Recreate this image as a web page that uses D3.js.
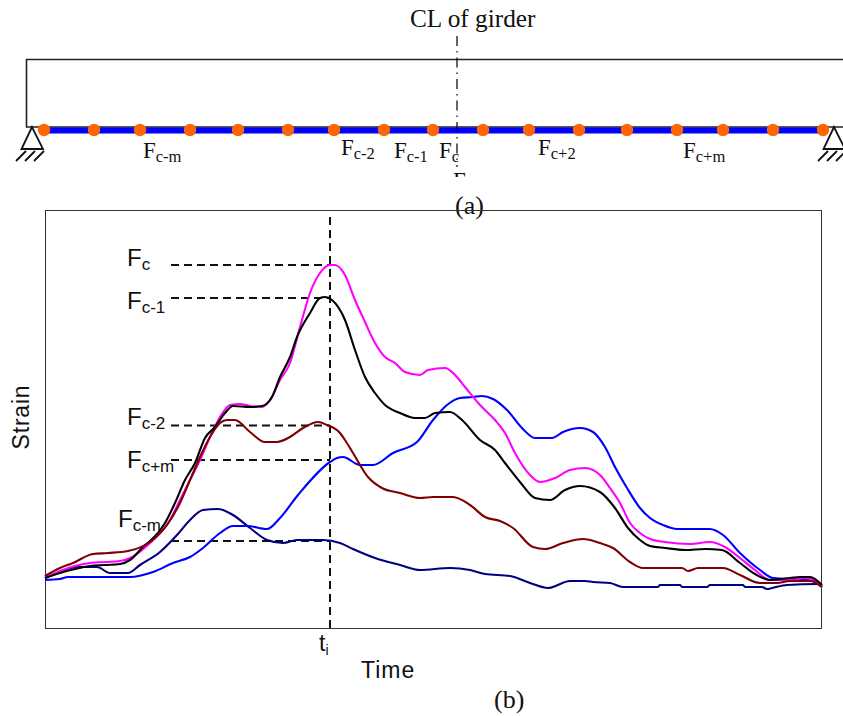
<!DOCTYPE html>
<html>
<head>
<meta charset="utf-8">
<script src="https://cdn.jsdelivr.net/npm/d3@7"></script>
<style>
  html, body { margin: 0; padding: 0; background: #fff; }
  svg { display: block; }
</style>
</head>
<body>
<div id="container"></div>
<script>
// curve readings: time and strain in plot units, origin at lower left of the frame
const timeFc = [0,15,30,45,60,75,85,105,125,135,145,155,165,175,185,195,205,217,225,235,245,255,265,275,285,290,300,310,320,330,340,350,360,375,383,400,410,420,435,450,460,470,485,495,510,525,540,555,565,575,585,595,605,620,645,665,680,695,710,725,745,760,777];
const strainFc = [50,57,62,65,66,67,70,85,108,128,148,168,191,211,223,224,222,221,228,248,265,301,335,355,363,363,353,328,306,285,271,265,256,253,258,260,253,241,223,208,195,175,153,146,150,158,160,153,140,125,105,95,89,86,84,86,81,70,58,48,48,50,42];
const timeFc1 = [0,15,30,45,60,75,85,100,105,120,130,140,150,160,170,180,188,205,217,227,235,245,252,265,275,280,287,300,310,320,330,340,355,370,380,390,405,417,435,450,460,475,490,505,520,535,555,570,583,595,605,620,640,660,677,695,710,725,745,755,765,777];
const strainFc1 = [50,55,59,62,63,64,68,83,87,105,125,148,165,190,201,215,222,221,222,231,251,271,291,315,330,331,328,308,278,251,235,223,215,210,210,215,216,208,188,178,165,146,130,128,138,142,136,120,100,88,82,80,78,79,78,65,54,48,50,51,51,43];
const timeFc2 = [0,15,28,48,63,83,105,122,135,145,155,165,175,182,190,205,220,232,245,258,273,282,295,300,308,323,337,355,375,388,408,425,440,455,468,488,500,518,538,555,568,585,598,637,643,653,678,695,715,732,745,765,777];
const strainFc2 = [52,60,65,74,75,77,86,103,125,148,171,191,205,208,208,196,186,186,191,200,206,203,195,188,175,151,140,135,130,131,131,123,111,107,100,81,79,85,89,85,80,66,60,60,57,60,60,53,45,45,47,47,41];
const timeFcPlusM = [0,15,23,85,108,128,145,158,175,188,202,222,235,253,285,292,298,315,328,348,372,388,402,415,428,437,448,462,477,490,507,518,535,548,560,570,582,595,605,618,632,665,678,695,715,728,748,765,777];
const strainFcPlusM = [48,49,51,51,56,65,71,80,95,102,102,99,110,133,166,170,171,163,163,175,186,208,223,230,231,232,229,218,200,190,190,196,200,196,181,161,140,120,110,103,99,99,93,75,58,50,49,49,42];
const timeFcMinusM = [0,15,32,52,65,83,95,115,132,145,158,173,188,205,222,238,252,278,295,308,330,355,375,405,425,440,465,485,503,525,540,548,565,578,613,615,635,637,662,665,698,700,717,722,727,742,772,777];
const strainFcMinusM = [50,56,61,61,55,55,63,76,93,108,118,119,113,100,88,85,88,88,85,79,70,63,58,60,58,54,52,45,40,47,47,46,45,41,41,43,43,41,41,43,43,41,41,39,40,43,44,41];

// load points along the girder, same units as the page
const girderStations = [44,94,140,190,238,288,334,384,433,483,529,579,627,677,723,773,823];
const girderLabels = ["c-m","c-2","c-1","c","c+2","c+m"];
const girderLabelX = [143,341,394,439,538,683];
const girderLabelY = [158,155,158,158,155,158];

// leader lines on the strain plot
const leaderNames = ["c","c-1","c-2","c+m","c-m"];
const leaderStrain = [363,330,202.5,168,87];
const leaderLabelStart = [127,127,127,127,118];
const leaderLabelBase = [266,309,425,468,527];

const WIDTH = 843;
const HEIGHT = 716;
const PLOT = { left: 45.5, right: 821.5, top: 210.5, bottom: 628.5 };
const PEAK_TIME = 285;
const SERIF = "'Liberation Serif', serif";
const SANS = "'Liberation Sans', sans-serif";

const svg = d3.select("#container").append("svg")
    .attr("width", WIDTH)
    .attr("height", HEIGHT);

const x = d3.scaleLinear().domain([0, 777]).range([45, 822]);
const y = d3.scaleLinear().domain([0, 418]).range([628, 210]);

// text with a lowered subscript, F is the main letter everywhere
const subLabel = (g, px, py, sub, size, subSize, family) => {
    const t = g.append("text")
        .attr("x", px)
        .attr("y", py)
        .attr("font-family", family)
        .attr("font-size", size)
        .attr("fill", "#111");
    t.append("tspan").text("F");
    t.append("tspan").attr("dy", size * 0.17).attr("font-size", subSize).text(sub);
};

// girder part (a)
const drawGirder = () => {
    const g = svg.append("g");
    g.append("path")
        .attr("d", "M843,59.5H26.5V127H843")
        .attr("fill", "none")
        .attr("stroke", "#222")
        .attr("stroke-width", 1.6);
    g.append("rect")
        .attr("x", 44).attr("y", 127.5)
        .attr("width", 779).attr("height", 6)
        .attr("fill", "#0000ff");
    g.selectAll("circle")
        .data(girderStations)
        .join("circle")
        .attr("cx", (d) => d)
        .attr("cy", 130)
        .attr("r", 6.2)
        .attr("fill", "#ff6600");

    // pinned supports
    [32, 834].forEach((cx) => {
        g.append("path")
            .attr("d", `M${cx},127L${cx - 10.5},149H${cx + 11}Z`)
            .attr("fill", "none")
            .attr("stroke", "#111")
            .attr("stroke-width", 1.8);
        g.append("path")
            .attr("d", [0, 1, 2].map((i) => {
                const hx = cx - 6 + i * 9;
                return `M${hx},151L${hx - 10},161`;
            }).join(""))
            .attr("fill", "none")
            .attr("stroke", "#111")
            .attr("stroke-width", 1.8);
    });

    // centre line
    g.append("line")
        .attr("x1", 457).attr("x2", 457)
        .attr("y1", 36).attr("y2", 167)
        .attr("stroke", "#111")
        .attr("stroke-width", 1.3)
        .attr("stroke-dasharray", "10,5,1.5,5");

    g.append("text")
        .attr("x", 410).attr("y", 27)
        .attr("font-family", SERIF)
        .attr("font-size", 25.3)
        .attr("fill", "#111")
        .text("CL of girder");

    girderLabels.forEach((d, i) => {
        subLabel(g, girderLabelX[i], girderLabelY[i], d, 23, 16.5, SERIF);
    });

    // stray label cut off just under the centre line
    svg.append("clipPath").attr("id", "cut")
        .append("rect")
        .attr("x", 445).attr("y", 172)
        .attr("width", 30).attr("height", 5);
    g.append("text")
        .attr("clip-path", "url(#cut)")
        .attr("x", 453).attr("y", 188)
        .attr("font-family", SERIF)
        .attr("font-size", 23)
        .attr("fill", "#111")
        .text("F");

    g.append("text")
        .attr("x", 455).attr("y", 214)
        .attr("font-family", SERIF)
        .attr("font-size", 26)
        .attr("fill", "#111")
        .text("(a)");
};

// strain history part (b)
const drawPlot = () => {
    const g = svg.append("g");
    g.append("rect")
        .attr("x", PLOT.left)
        .attr("y", PLOT.top)
        .attr("width", PLOT.right - PLOT.left)
        .attr("height", PLOT.bottom - PLOT.top)
        .attr("fill", "none")
        .attr("stroke", "#333")
        .attr("stroke-width", 1);

    g.append("line")
        .attr("x1", x(PEAK_TIME)).attr("x2", x(PEAK_TIME))
        .attr("y1", 217).attr("y2", 630)
        .attr("stroke", "#111")
        .attr("stroke-width", 2)
        .attr("stroke-dasharray", "8,5");

    g.selectAll("line.leader")
        .data(leaderStrain)
        .join("line")
        .attr("class", "leader")
        .attr("x1", 171)
        .attr("x2", x(PEAK_TIME))
        .attr("y1", (d) => y(d))
        .attr("y2", (d) => y(d))
        .attr("stroke", "#111")
        .attr("stroke-width", 2)
        .attr("stroke-dasharray", "8,5");

    const line = d3.line()
        .x((d) => x(d[0]))
        .y((d) => y(d[1]))
        .curve(d3.curveMonotoneX);

    const series = [
        { t: timeFcMinusM, s: strainFcMinusM, color: "#000080" },
        { t: timeFcPlusM, s: strainFcPlusM, color: "#0000ff" },
        { t: timeFc, s: strainFc, color: "#ff00ff" },
        { t: timeFc1, s: strainFc1, color: "#000000" },
        { t: timeFc2, s: strainFc2, color: "#800000" },
    ];
    g.selectAll("path.curve")
        .data(series)
        .join("path")
        .attr("class", "curve")
        .attr("d", (d) => line(d3.zip(d.t, d.s)))
        .attr("fill", "none")
        .attr("stroke", (d) => d.color)
        .attr("stroke-width", 2.1);

    leaderNames.forEach((d, i) => {
        subLabel(g, leaderLabelStart[i], leaderLabelBase[i], d, 24, 17, SANS);
    });

    g.append("text")
        .attr("transform", "translate(29,417) rotate(-90)")
        .attr("text-anchor", "middle")
        .attr("font-family", SANS)
        .attr("font-size", 23)
        .attr("letter-spacing", 0.8)
        .attr("fill", "#111")
        .text("Strain");
    g.append("text")
        .attr("x", 361).attr("y", 678)
        .attr("font-family", SANS)
        .attr("font-size", 23)
        .attr("letter-spacing", 1)
        .attr("fill", "#111")
        .text("Time");

    const ti = g.append("text")
        .attr("x", 319).attr("y", 651)
        .attr("font-family", SANS)
        .attr("font-size", 23)
        .attr("fill", "#111");
    ti.append("tspan").text("t");
    ti.append("tspan").attr("dy", 4).attr("font-size", 14).text("i");

    g.append("text")
        .attr("x", 494).attr("y", 708)
        .attr("font-family", SERIF)
        .attr("font-size", 26)
        .attr("fill", "#111")
        .text("(b)");
};

drawGirder();
drawPlot();
</script>
</body>
</html>
